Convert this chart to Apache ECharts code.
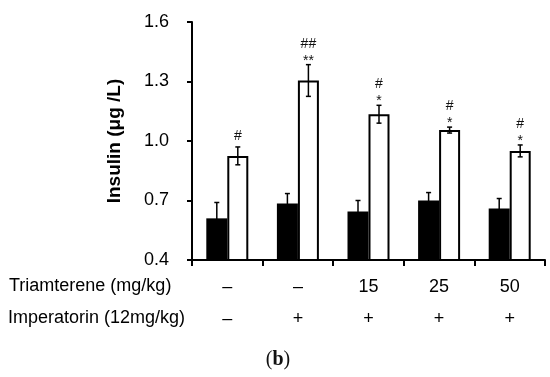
<!DOCTYPE html>
<html><head><meta charset="utf-8">
<script src="https://cdn.jsdelivr.net/npm/echarts@6/dist/echarts.min.js"></script>
<style>html,body{margin:0;padding:0;background:#fff}#c{width:550px;height:377px}</style>
</head><body><div id="c"></div>
<script>
const triamterene = ['–', '–', '15', '25', '50'];
const imperatorin = ['–', '+', '+', '+', '+'];
const blackValues = [0.61, 0.685, 0.645, 0.70, 0.66];
const blackErrors = [0.08, 0.05, 0.055, 0.04, 0.05];
const whiteValues = [0.925, 1.305, 1.135, 1.055, 0.95];
const whiteErrors = [0.045, 0.08, 0.045, 0.015, 0.03];
const starMarks = ['', '**', '*', '*', '*'];
const hashMarks = ['#', '##', '#', '#', '#'];
const yMin = 0.4, yMax = 1.6, yStep = 0.3;

const BW = 21;
const chart = echarts.init(document.getElementById('c'));
const SANS = '"Liberation Sans", Arial, sans-serif';

function errRender(side, errs) {
  return function (params, api) {
    const i = api.value(0), v = api.value(1), e = errs[i];
    const hi = api.coord([i, v + e]);
    const lo = api.coord([i, v - e]);
    const x = hi[0] + side * BW / 2;
    const st = { stroke: '#000', lineWidth: 1.5 };
    return { type: 'group', children: [
      { type: 'line', shape: { x1: x, y1: hi[1], x2: x, y2: lo[1] }, style: st },
      { type: 'line', shape: { x1: x - 2.5, y1: hi[1], x2: x + 2.5, y2: hi[1] }, style: st },
      { type: 'line', shape: { x1: x - 2.5, y1: lo[1], x2: x + 2.5, y2: lo[1] }, style: st }
    ]};
  };
}

function annRender(params, api) {
  const i = api.value(0), v = api.value(1), e = whiteErrors[i];
  const top = api.coord([i, v + e]);
  const x = top[0] + BW / 2;
  const ch = [];
  const y = top[1];
  const f = '14px ' + SANS;
  if (starMarks[i]) {
    ch.push({ type: 'text', style: { text: starMarks[i], x: x, y: y - 4, align: 'center', verticalAlign: 'middle', font: f, fill: '#111' } });
    ch.push({ type: 'text', style: { text: hashMarks[i], x: x, y: y - 21, align: 'center', verticalAlign: 'middle', font: f, fill: '#111' } });
  } else {
    ch.push({ type: 'text', style: { text: hashMarks[i], x: x, y: y - 11, align: 'center', verticalAlign: 'middle', font: f, fill: '#111' } });
  }
  return { type: 'group', children: ch };
}

chart.setOption({
  animation: false,
  grid: { left: 192, right: 5, top: 22, bottom: 117 },
  xAxis: {
    type: 'category',
    data: triamterene,
    axisLine: { lineStyle: { color: '#000', width: 2 } },
    axisTick: { show: true, length: 6, lineStyle: { color: '#000', width: 2 } },
    axisLabel: {
      margin: 11,
      interval: 0,
      formatter: function (v, i) { return '{a|' + triamterene[i] + '}\n{a|' + imperatorin[i] + '}'; },
      rich: { a: { fontSize: 18, lineHeight: 32, fontFamily: SANS, color: '#000' } }
    }
  },
  yAxis: {
    type: 'value',
    min: yMin, max: yMax, interval: yStep,
    name: 'Insulin (μg /L)',
    nameLocation: 'middle',
    nameGap: 68,
    nameTextStyle: { fontSize: 19, fontWeight: 'bold', fontFamily: SANS, color: '#000' },
    splitLine: { show: false },
    axisLine: { show: true, lineStyle: { color: '#000', width: 2 } },
    axisTick: { show: true, length: 5, lineStyle: { color: '#000', width: 2 } },
    axisLabel: { margin: 23, fontSize: 18, fontFamily: SANS, color: '#000', formatter: v => v.toFixed(1) }
  },
  series: [
    { type: 'bar', data: blackValues, barWidth: BW, barGap: '0%', itemStyle: { color: '#000' } },
    { type: 'bar', data: whiteValues, barWidth: BW, barGap: '0%', itemStyle: { color: '#fff', borderColor: '#000', borderWidth: 2 } },
    { type: 'custom', data: blackValues.map((v, i) => [i, v]), renderItem: errRender(-1, blackErrors), z: 5 },
    { type: 'custom', data: whiteValues.map((v, i) => [i, v]), renderItem: errRender(1, whiteErrors), z: 5 },
    { type: 'custom', data: whiteValues.map((v, i) => [i, v]), renderItem: annRender, z: 5 }
  ],
  graphic: [
    { type: 'text', left: 9, top: 277, style: { text: 'Triamterene (mg/kg)', font: '18px ' + SANS, fill: '#000' } },
    { type: 'text', left: 8, top: 309, style: { text: 'Imperatorin (12mg/kg)', font: '18px ' + SANS, fill: '#000' } },
    { type: 'text', x: 278, y: 360, style: { text: '({b|b})', align: 'center', verticalAlign: 'middle', font: '20px "Liberation Serif", serif', fill: '#111', rich: { b: { fontWeight: 'bold', fontSize: 20, fontFamily: '"Liberation Serif", serif' } } } }
  ]
});
</script></body></html>
